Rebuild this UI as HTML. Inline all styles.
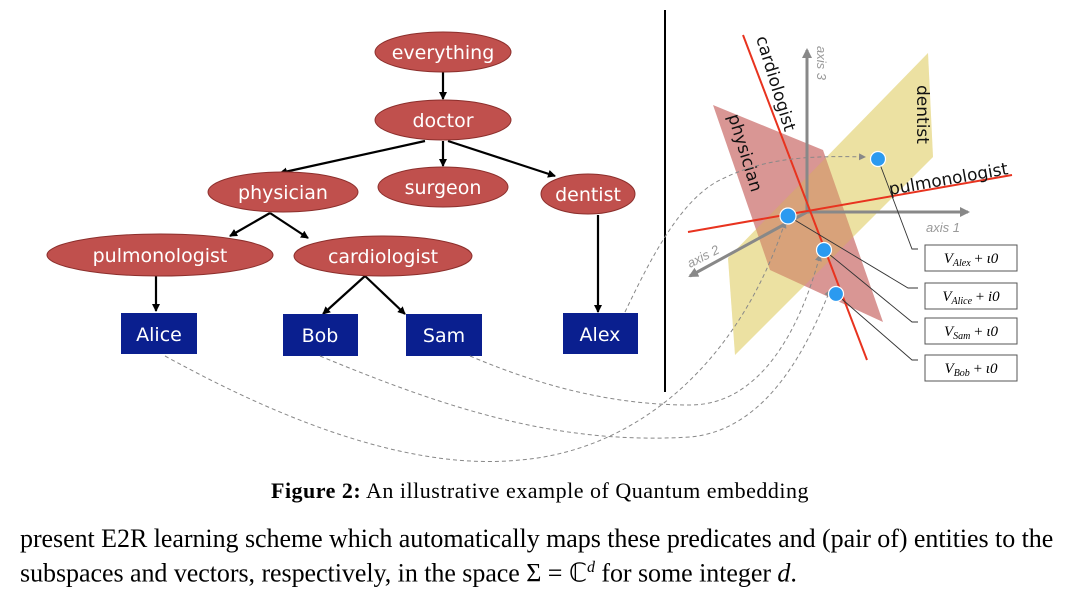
<!DOCTYPE html>
<html><head><meta charset="utf-8"><style>
body{margin:0;background:#fff;width:1080px;height:598px;overflow:hidden;position:relative;font-family:"Liberation Serif",serif}
svg{position:absolute;left:0;top:0}
.cap{position:absolute;left:0;width:1080px;top:478px;text-align:center;font-size:22px;letter-spacing:0.5px}
.body{position:absolute;left:20px;top:524px;font-size:26px;line-height:29px;white-space:nowrap;letter-spacing:-0.05px}
</style></head><body>
<svg width="1080" height="470" viewBox="0 0 1080 470">
<defs>
<marker id="a" markerWidth="8" markerHeight="8" refX="7" refY="4" orient="auto" markerUnits="userSpaceOnUse"><path d="M0,0L8,4L0,8z" fill="#000"/></marker>
<marker id="g" markerWidth="10" markerHeight="10" refX="8" refY="5" orient="auto" markerUnits="userSpaceOnUse"><path d="M0,0L10,5L0,10z" fill="#888"/></marker>
<marker id="d" markerWidth="7" markerHeight="7" refX="6" refY="3.5" orient="auto" markerUnits="userSpaceOnUse"><path d="M0,0L7,3.5L0,7z" fill="#888"/></marker>
</defs>
<g stroke="#000" stroke-width="2.2" marker-end="url(#a)" fill="none">
<line x1="443" y1="72" x2="443" y2="99"/>
<line x1="425" y1="141" x2="280" y2="173"/>
<line x1="443" y1="141" x2="443" y2="166"/>
<line x1="448" y1="141" x2="555" y2="176"/>
<line x1="270" y1="213" x2="230" y2="236"/>
<line x1="270" y1="213" x2="308" y2="238"/>
<line x1="156" y1="276" x2="156" y2="311"/>
<line x1="365" y1="276" x2="323" y2="314"/>
<line x1="365" y1="276" x2="405" y2="314"/>
<line x1="598" y1="215" x2="598" y2="312"/>
</g>
<g fill="#c0504d" stroke="#8c2f2c" stroke-width="1">
<ellipse cx="443" cy="52" rx="68" ry="20"/>
<ellipse cx="443" cy="120" rx="68" ry="20"/>
<ellipse cx="283" cy="192" rx="75" ry="20"/>
<ellipse cx="443" cy="187" rx="65" ry="20"/>
<ellipse cx="588" cy="194" rx="47" ry="20"/>
<ellipse cx="160" cy="255" rx="113" ry="21"/>
<ellipse cx="383" cy="256" rx="89" ry="20"/>
</g>
<g fill="#0a1f8f">
<rect x="121" y="313" width="76" height="41"/>
<rect x="283" y="314" width="75" height="42"/>
<rect x="406" y="314" width="76" height="42"/>
<rect x="563" y="313" width="75" height="41"/>
</g>
<g fill="#fff" font-family="'DejaVu Sans','Liberation Sans',sans-serif" font-size="19" text-anchor="middle">
<text x="443" y="59">everything</text>
<text x="443" y="127">doctor</text>
<text x="283" y="199">physician</text>
<text x="443" y="194">surgeon</text>
<text x="588" y="201">dentist</text>
<text x="160" y="262">pulmonologist</text>
<text x="383" y="263">cardiologist</text>
<text x="159" y="341">Alice</text>
<text x="320" y="342">Bob</text>
<text x="444" y="342">Sam</text>
<text x="600" y="341">Alex</text>
</g>
<line x1="665" y1="10" x2="665" y2="392" stroke="#000" stroke-width="2"/>
<polygon points="728,258 928,53 933,157 735,355" fill="#ecdf99" opacity="0.8"/>
<polygon points="713,105 823,150 883,322 770,270" fill="#c0504d" opacity="0.6"/>
<polygon points="728,258 928,53 933,157 735,355" fill="#e6d88a" opacity="0.3"/>
<g stroke="#888" stroke-width="3" fill="none">
<line x1="807" y1="212" x2="807" y2="50" marker-end="url(#g)"/>
<line x1="807" y1="212" x2="968" y2="212" marker-end="url(#g)"/>
<line x1="807" y1="212" x2="690" y2="276" marker-end="url(#g)"/>
</g>
<g fill="#999" font-family="'Liberation Sans',sans-serif" font-size="13" font-style="italic">
<text transform="translate(817,46) rotate(90)">axis 3</text>
<text x="926" y="232">axis 1</text>
<text transform="translate(690,268) rotate(-27)">axis 2</text>
</g>
<line x1="743" y1="35" x2="867" y2="360" stroke="#e8331f" stroke-width="2"/>
<line x1="688" y1="232" x2="1012" y2="175" stroke="#e8331f" stroke-width="2"/>
<g fill="#111" font-family="'DejaVu Sans','Liberation Sans',sans-serif" font-size="17">
<text transform="translate(756,38) rotate(73)">cardiologist</text>
<text transform="translate(917,85) rotate(90)">dentist</text>
<text transform="translate(728,116) rotate(73)">physician</text>
<text transform="translate(890,195) rotate(-10)">pulmonologist</text>
</g>
<g stroke="#888" stroke-width="1" stroke-dasharray="4,3" fill="none">
<path d="M165,356 C300,430 420,470 520,460 C640,450 740,360 785,222" marker-end="url(#d)"/>
<path d="M320,356 C450,410 560,445 690,437 C770,430 810,340 830,290" marker-end="url(#d)"/>
<path d="M470,356 C550,390 620,405 690,405 C760,405 800,330 820,255" marker-end="url(#d)"/>
<path d="M625,312 C650,260 680,200 720,180 C760,160 800,155 865,157" marker-end="url(#d)"/>
</g>
<g stroke="#333" stroke-width="0.9" fill="none">
<polyline points="878,159 912,249 918,249"/>
<polyline points="788,216 908,288 918,288"/>
<polyline points="824,250 912,322 918,322"/>
<polyline points="836,294 912,360 918,360"/>
</g>
<g fill="#2b9af0" stroke="#fff" stroke-width="1.2">
<circle cx="878" cy="159" r="7.5"/>
<circle cx="788" cy="216" r="8"/>
<circle cx="824" cy="250" r="7.5"/>
<circle cx="836" cy="294" r="7.5"/>
</g>
<g fill="#fff" stroke="#555" stroke-width="1">
<rect x="925" y="245" width="92" height="26"/>
<rect x="925" y="283" width="92" height="26"/>
<rect x="925" y="318" width="92" height="26"/>
<rect x="925" y="355" width="92" height="26"/>
</g>
<g font-family="'Liberation Serif',serif" font-size="15" font-style="italic" text-anchor="middle" fill="#000">
<text x="971" y="263">V<tspan font-size="10" dy="3">Alex</tspan><tspan dy="-3" font-style="normal"> + </tspan>ι0</text>
<text x="971" y="301">V<tspan font-size="10" dy="3">Alice</tspan><tspan dy="-3" font-style="normal"> + </tspan>i0</text>
<text x="971" y="336">V<tspan font-size="10" dy="3">Sam</tspan><tspan dy="-3" font-style="normal"> + </tspan>ι0</text>
<text x="971" y="373">V<tspan font-size="10" dy="3">Bob</tspan><tspan dy="-3" font-style="normal"> + </tspan>ι0</text>
</g>
</svg>
<div class="cap"><b>Figure 2:</b> An illustrative example of Quantum embedding</div>
<div class="body">present E2R learning scheme which automatically maps these predicates and (pair of) entities to the<br>subspaces and vectors, respectively, in the space Σ = ℂ<sup style="font-size:16px;font-style:italic">d</sup> for some integer <i>d</i>.</div>
</body></html>
